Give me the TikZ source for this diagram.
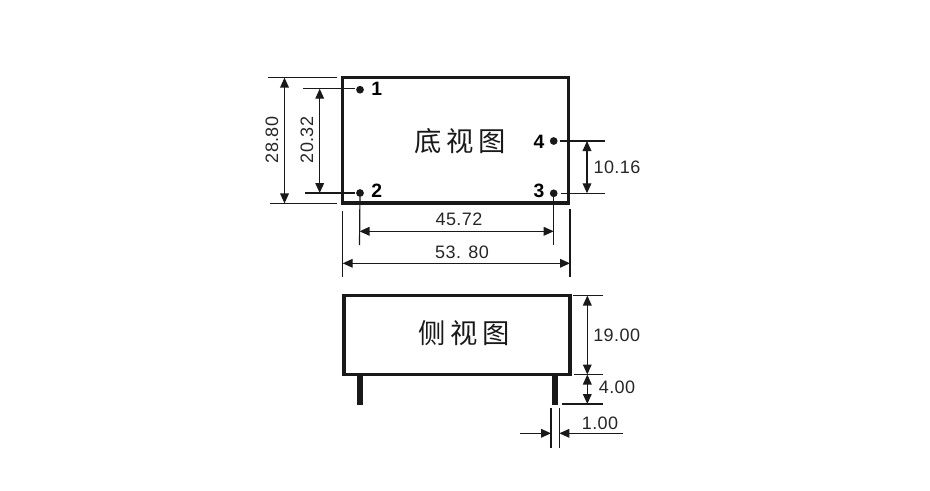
\documentclass[tikz,border=0pt]{standalone}
\usepackage{fontspec}
\setmainfont[LetterSpace=2.5]{Liberation Sans}
\newfontfamily\cjk[LetterSpace=17]{Noto Sans CJK SC}
\usetikzlibrary{arrows.meta}
\tikzset{
    boxview/.style={draw=black!90, line width=2.5pt, inner sep=0pt},
    pindot/.style={circle, fill=black!90, minimum size=5.8pt, inner sep=0pt},
    pinleg/.style={fill=black!90, minimum width=4.3pt, minimum height=22.5pt, inner sep=0pt},
    extline/.style={draw=black!90, line width=0.9pt},
    dimline/.style={draw=black!90, line width=1pt, {Triangle[length=7.5pt,width=6.5pt]}-{Triangle[length=7.5pt,width=6.5pt]}},
    dimin/.style={draw=black!90, line width=1pt, -{Triangle[length=7.5pt,width=6.5pt]}},
    dimtext/.style={font=\fontsize{13.5pt}{14pt}\selectfont, text=black!85, inner sep=0pt},
    pintext/.style={font=\fontsize{14.5pt}{15pt}\selectfont\bfseries, inner sep=0pt},
    titletext/.style={font=\cjk\fontsize{20.5pt}{22pt}\selectfont, text=black!90, inner sep=0pt}
}
\begin{document}
\begin{tikzpicture}[x=0.75pt, y=-0.75pt]
    \useasboundingbox (0,0) rectangle (930,490);

    \node[boxview, minimum width=169.5pt, minimum height=94pt] (bottomview) at (455.8,140.4) {};
    \node[boxview, minimum width=169.5pt, minimum height=59.3pt] (sideview) at (457,335.2) {};
    \node[titletext] (bottomtitle) at (460,141) {底视图};
    \node[titletext] (sidetitle) at (464,333) {侧视图};

    \node[pindot] (pin1) at (360,89.7) {};
    \node[pindot] (pin2) at (360,193) {};
    \node[pindot] (pin3) at (553.7,193.3) {};
    \node[pindot] (pin4) at (553.7,141) {};
    \node[pintext] (num1) at (376.7,89) {1};
    \node[pintext] (num2) at (376.7,191) {2};
    \node[pintext] (num3) at (539,191) {3};
    \node[pintext] (num4) at (539,141.7) {4};

    \node[pinleg] (legleft) at (359.7,390) {};
    \node[pinleg] (legright) at (554.7,390) {};

    \coordinate (a1) at (268,77.6);
    \coordinate (a2) at (337,77.6);
    \coordinate (a3) at (270,203.4);
    \coordinate (a4) at (337,203.4);
    \coordinate (a5) at (284.5,77.6);
    \coordinate (a6) at (284.5,203.4);
    \draw[extline] (a1) -- (a2);
    \draw[extline] (a3) -- (a4);
    \draw[dimline] (a5) -- (a6);
    \node[dimtext, rotate=90] (w2880) at (272,140) {28.80};

    \coordinate (b1) at (303,88.7);
    \coordinate (b2) at (355,88.7);
    \coordinate (b3) at (305,193);
    \coordinate (b4) at (355,193);
    \coordinate (b5) at (319.7,88.7);
    \coordinate (b6) at (319.7,193);
    \draw[extline] (b1) -- (b2);
    \draw[extline] (b3) -- (b4);
    \draw[dimline] (b5) -- (b6);
    \node[dimtext, rotate=90] (w2032) at (307,140) {20.32};

    \coordinate (c1) at (359.5,245);
    \coordinate (c2) at (553.7,245);
    \coordinate (c3) at (359.5,231.3);
    \coordinate (c4) at (553.7,231.3);
    \draw[extline] (pin2) -- (c1);
    \draw[extline] (pin3) -- (c2);
    \draw[dimline] (c3) -- (c4);
    \node[dimtext] (w4572) at (459,219.5) {45.72};

    \coordinate (e1) at (342.7,211);
    \coordinate (e2) at (342.7,276.7);
    \coordinate (e3) at (570,209);
    \coordinate (e4) at (570,276.7);
    \coordinate (e5) at (342.7,263.3);
    \coordinate (e6) at (570,263.3);
    \draw[extline] (e1) -- (e2);
    \draw[extline] (e3) -- (e4);
    \draw[dimline] (e5) -- (e6);
    \node[dimtext] (w5380) at (462,252) {53. 80};

    \coordinate (f1) at (560,141);
    \coordinate (f2) at (605,141);
    \coordinate (f3) at (561,193.3);
    \coordinate (f4) at (605,193.3);
    \coordinate (f5) at (587,141);
    \coordinate (f6) at (587,193.3);
    \draw[extline] (f1) -- (f2);
    \draw[extline] (f3) -- (f4);
    \draw[dimline] (f5) -- (f6);
    \node[dimtext] (w1016) at (617,167) {10.16};

    \coordinate (g1) at (573,295.5);
    \coordinate (g2) at (603,295.5);
    \coordinate (g3) at (574,374.5);
    \coordinate (g4) at (603,374.5);
    \coordinate (g5) at (562,404);
    \coordinate (g6) at (603,404);
    \coordinate (g7) at (587.3,295.5);
    \coordinate (g8) at (587.3,374.5);
    \coordinate (g9) at (587.3,404);
    \draw[extline] (g1) -- (g2);
    \draw[extline] (g3) -- (g4);
    \draw[extline] (g5) -- (g6);
    \draw[dimline] (g7) -- (g8);
    \draw[dimline] (g8) -- (g9);
    \node[dimtext] (w1900) at (616.7,335) {19.00};
    \node[dimtext] (w400) at (617,387.7) {4.00};

    \coordinate (h1) at (551,407.7);
    \coordinate (h2) at (551,448);
    \coordinate (h3) at (559.3,407.7);
    \coordinate (h4) at (559.3,448);
    \coordinate (h5) at (520,433.3);
    \coordinate (h6) at (551,433.3);
    \coordinate (h7) at (623,433.3);
    \coordinate (h8) at (559.3,433.3);
    \draw[extline] (h1) -- (h2);
    \draw[extline] (h3) -- (h4);
    \draw[dimin] (h5) -- (h6);
    \draw[dimin] (h7) -- (h8);
    \node[dimtext] (w100) at (600,423) {1.00};
\end{tikzpicture}
\end{document}
